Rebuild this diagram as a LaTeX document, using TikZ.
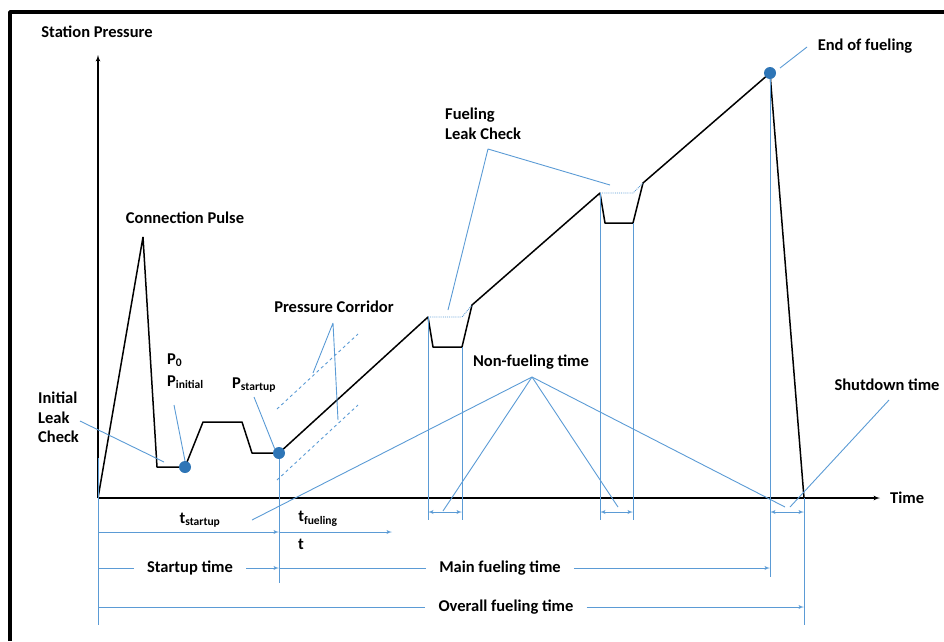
\documentclass[tikz,border=0pt]{standalone}
\usepackage{fontspec}
\setmainfont{Carlito}
\usepackage{tikz}
\usetikzlibrary{arrows, calc, positioning}
\definecolor{leadblue}{RGB}{91,155,213}
\definecolor{dotblue}{RGB}{46,117,182}

\begin{document}
\begin{tikzpicture}[>=latex', line join=bevel, x=1pt, y=-1pt,
        lbl/.style={font=\bfseries\fontsize{16.5}{19.5}\selectfont, inner sep=1pt},
        rowlbl/.style={lbl, inner xsep=13pt},
        curve/.style={line width=1.5pt},
        lead/.style={leadblue, line width=.9pt},
        bluedot/.style={circle, fill=dotblue, inner sep=0pt, minimum size=12pt}]
        \useasboundingbox (0,0) rectangle (944,641);
        \draw[line width=3.5pt] (10,641) -- (10,12) -- (944,12);
        % axes
        \coordinate (O) at (98,498);
        \coordinate (ytop) at (98,55);
        \coordinate (xend) at (880,498);
        \draw[line width=1.2pt, ->] (O) -- (ytop);
        \draw[line width=1.2pt, ->] (O) -- (xend);
        \node[lbl] (spres) at (97,32) {Station Pressure};
        \node[lbl, right=9pt of xend] (time) {Time};
        % pressure curve
        \coordinate (peak) at (143,237);
        \coordinate (c2) at (157,467);
        \coordinate (p0) at (185,467);
        \coordinate (c3) at (203,422);
        \coordinate (c4) at (242,422);
        \coordinate (c5) at (252,453);
        \coordinate (ps) at (279,453);
        \coordinate (f1) at (428,317);
        \coordinate (f2) at (433,347);
        \coordinate (f3) at (462,347);
        \coordinate (f4) at (472,305);
        \coordinate (g1) at (600,193);
        \coordinate (g2) at (605,223);
        \coordinate (g3) at (633,223);
        \coordinate (g4) at (643,183);
        \coordinate (pe) at (770,73);
        \coordinate (sd) at (804,498);
        \draw[curve] (O) -- (peak) -- (c2) -- (p0) -- (c3) -- (c4) -- (c5) -- (ps)
            -- (f1) -- (f2) -- (f3) -- (f4) -- (g1) -- (g2) -- (g3) -- (g4) -- (pe) -- (sd);
        \draw[lead, densely dotted] (f1) -- (f3 |- f1) -- (f4);
        \draw[lead, densely dotted] (g1) -- (g3 |- g1) -- (g4);
        % time marks
        \draw[lead] (98,458) -- (98,625);
        \draw[lead] (ps) -- (279,583);
        \foreach \p in {f1,f3,g1,g3}
            \draw[lead] (\p) -- (\p |- 0,520);
        \draw[lead] (pe) -- (770,577);
        \draw[lead] (sd) -- (804,625);
        \draw[lead, <->] (f1 |- 0,512) -- (f3 |- 0,512);
        \draw[lead, <->] (g1 |- 0,512) -- (g3 |- 0,512);
        \draw[lead, <->] (pe |- 0,512) -- (sd |- 0,512);
        \node[bluedot] (p0dot) at (p0) {};
        \node[bluedot] (psdot) at (ps) {};
        \node[bluedot] (pedot) at (pe) {};
        % pressure corridor
        \draw[lead, dashed] (277,409) -- (358,334);
        \draw[lead, dashed] (277,480) -- (358,405);
        % labels
        \node[lbl] (cpulse) at (185,218) {Connection Pulse};
        \node[lbl, align=left, anchor=north west] (ilc) at (37,391) {Initial\\Leak\\Check};
        \node[lbl, anchor=west] (pzero) at (166,360) {P\textsubscript{0}};
        \node[lbl, anchor=west] (pinit) at (166,382) {P\textsubscript{initial}};
        \node[lbl, anchor=west] (pstart) at (231,385) {P\textsubscript{startup}};
        \node[lbl] (corr) at (334,307) {Pressure Corridor};
        \node[lbl, align=left, anchor=north west] (flc) at (444,107) {Fueling\\Leak Check};
        \node[lbl] (nonf) at (531,362) {Non-fueling time};
        \node[lbl] (eof) at (865,46) {End of fueling};
        \node[lbl] (shut) at (887,385) {Shutdown time};
        % leaders
        \coordinate (ilcend) at (164,462);
        \coordinate (p0top) at (174,405);
        \coordinate (pstop) at (254,397);
        \coordinate (corrv) at (333,323);
        \coordinate (flcv) at (488,149);
        \coordinate (nonfv) at (532,377);
        \draw[lead] (80,421) -- (ilcend);
        \draw[lead] (p0top) -- (p0dot.north);
        \draw[lead] (pstop) -- (psdot.north west);
        \draw[lead] (313,373) -- (corrv) -- (338,420);
        \draw[lead] (448,310) -- (flcv) -- (610,185);
        \foreach \e in {(252,520),(443,511),(618,507),(785,507)}
            \draw[lead] (nonfv) -- \e;
        \draw[lead] (889,400) -- (790,507);
        \draw[lead] (807,47) -- (780,68);
        % time spans
        \node[lbl] (tstart) at (200,520) {t\textsubscript{startup}};
        \node[lbl] (tfuel) at (318,519) {t\textsubscript{fueling}};
        \node[lbl] (tt) at (301,544) {t};
        \draw[lead, ->] (O |- 0,532) -- (ps |- 0,532);
        \draw[lead, ->] (ps |- 0,532) -- (392,532);
        \node[rowlbl] (stime) at (190,568) {Startup time};
        \node[rowlbl] (mtime) at (500,568) {Main fueling time};
        \node[rowlbl] (otime) at (506,607) {Overall fueling time};
        \draw[lead] (O |- stime) -- (stime.west);
        \draw[lead, ->] (stime.east) -- (ps |- stime);
        \draw[lead] (ps |- mtime) -- (mtime.west);
        \draw[lead, ->] (mtime.east) -- (pe |- mtime);
        \draw[lead] (O |- otime) -- (otime.west);
        \draw[lead, ->] (otime.east) -- (sd |- otime);
\end{tikzpicture}
\end{document}
